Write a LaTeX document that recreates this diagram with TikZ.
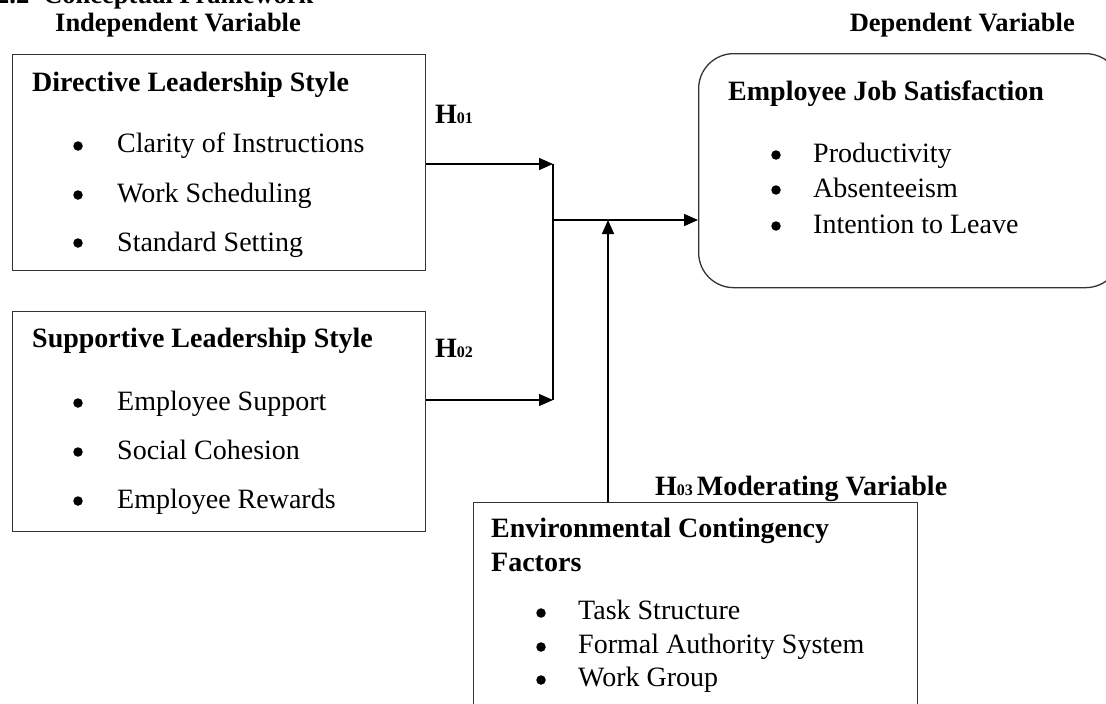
\documentclass[tikz,border=0pt]{standalone}
\usepackage{fontspec}
\setmainfont{Liberation Serif}
\usetikzlibrary{arrows.meta}
\newcommand{\bigtxt}{\fontsize{28}{32}\selectfont}
\newcommand{\hdtxt}{\fontsize{26.5}{30}\selectfont\bfseries}
\newcommand{\subtxt}{\fontsize{16}{18}\selectfont\bfseries}
\tikzset{
  box/.style={draw=black!80, line width=1.3pt, inner sep=0pt},
  rbox/.style={draw=black!80, line width=1.3pt, inner sep=0pt, rounded corners=35pt},
  ttl/.style={anchor=base west, inner sep=0pt, font=\bigtxt\bfseries},
  item/.style={anchor=base west, inner sep=0pt, font=\bigtxt},
  dot/.style={circle, fill=black, inner sep=0pt, minimum size=9.5pt},
  hd/.style={anchor=base west, inner sep=0pt, font=\hdtxt},
  hlab/.style={anchor=base west, inner sep=0pt, font=\bigtxt\bfseries},
  conn/.style={line width=1.4pt, black},
  arr/.style={conn, -{Triangle[length=14pt,width=12pt]}}
}
\begin{document}
\begin{tikzpicture}[x=1pt,y=-1pt]
\useasboundingbox (0,0) rectangle (1106,704);
\clip (0,0) rectangle (1106,704);
% headers
\node[hd] (sec) at (-4,4) {2.2\hspace{14pt}Conceptual Framework};
\node[hd] (iv) at (55,31) {Independent Variable};
\node[hd, anchor=base east] (dv) at (1075,31) {Dependent Variable};
% Directive box
\node[box, anchor=north west, minimum width=413pt, minimum height=216pt] (dir) at (12,54) {};
\node[ttl] (dirt) at (32,91) {Directive Leadership Style};
\node[dot] (d1) at (78,146) {};
\node[item] (dirA) at (117,152) {Clarity of Instructions};
\node[dot] (d2) at (78,195) {};
\node[item] (dirB) at (117,202) {Work Scheduling};
\node[dot] (d3) at (78,243) {};
\node[item] (dirC) at (117,251) {Standard Setting};
% Supportive box
\node[box, anchor=north west, minimum width=413pt, minimum height=220pt] (sup) at (12,311) {};
\node[ttl] (supt) at (32,347) {Supportive Leadership Style};
\node[dot] (s1) at (78,403) {};
\node[item] (supA) at (117,410) {Employee Support};
\node[dot] (s2) at (78,452) {};
\node[item] (supB) at (117,459) {Social Cohesion};
\node[dot] (s3) at (78,501) {};
\node[item] (supC) at (117,508) {Employee Rewards};
% Employee job satisfaction box
\node[rbox, anchor=north west, minimum width=422pt, minimum height=234pt] (ejs) at (698,53) {};
\node[ttl] (ejst) at (728,100) {Employee Job Satisfaction};
\node[dot] (e1) at (776,155) {};
\node[item] (ejsA) at (813,162) {Productivity};
\node[dot] (e2) at (776,190) {};
\node[item] (ejsB) at (813,197) {Absenteeism};
\node[dot] (e3) at (776,226) {};
\node[item] (ejsC) at (813,233) {Intention to Leave};
% Environmental box
\node[box, anchor=north west, minimum width=444pt, minimum height=230pt] (env) at (473,502) {};
\node[ttl] (envt) at (491,537) {Environmental Contingency};
\node[ttl] (envt2) at (491,571) {Factors};
\node[dot] (n1) at (541,613) {};
\node[item] (envA) at (578,619) {Task Structure};
\node[dot] (n2) at (541,647) {};
\node[item] (envB) at (578,653) {Formal Authority System};
\node[dot] (n3) at (541,680) {};
\node[item] (envC) at (578,686) {Work Group};
% hypothesis labels
\node[hlab] (h1) at (435,123) {H\subtxt 01};
\node[hlab] (h2) at (435,357) {H\subtxt 02};
\node[hlab] (h3) at (655,495) {H\subtxt 03\ \bigtxt Moderating Variable};
% connectors
\coordinate (j1) at (553,164);
\coordinate (j2) at (553,400);
\coordinate (jm) at (553,220);
\coordinate (jv) at (608,220);
\draw[arr] (dir.east |- j1) -- (j1);
\draw[arr] (sup.east |- j2) -- (j2);
\draw[conn] (j1) -- (j2);
\draw[arr] (jm) -- (ejs.west |- jm);
\draw[arr] (env.north -| jv) -- (jv);
\end{tikzpicture}
\end{document}
